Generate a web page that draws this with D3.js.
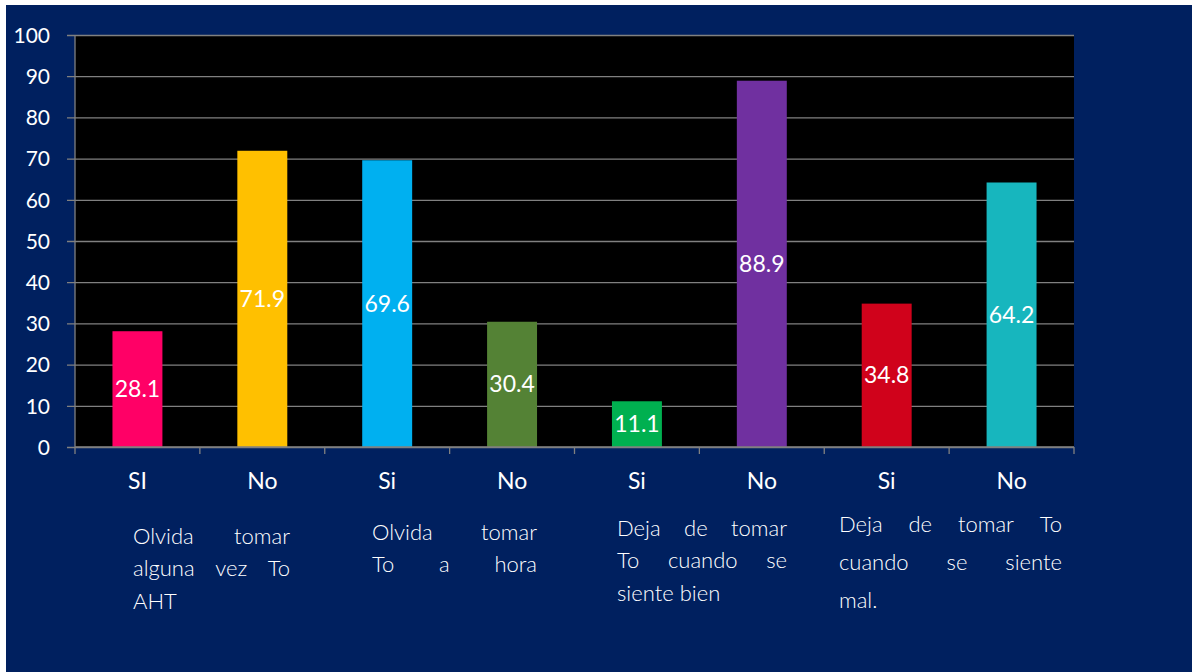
<!DOCTYPE html>
<html><head><meta charset="utf-8">
<script src="https://cdn.jsdelivr.net/npm/d3@7"></script>
<style>
html,body{margin:0;padding:0;background:#fff;}
svg{display:block;}
</style></head>
<body>
<script>
const categories = ["SI","No","Si","No","Si","No","Si","No"];
const values = [28.1, 71.9, 69.6, 30.4, 11.1, 88.9, 34.8, 64.2];
const colors = ["#FF0066","#FFC000","#00B0F0","#548235","#00B050","#7030A0","#D0021B","#17B6BE"];
const yTicks = [0,10,20,30,40,50,60,70,80,90,100];
const groupLines = [
  ["Olvida tomar","alguna vez To","AHT"],
  ["Olvida tomar","To a hora"],
  ["Deja de tomar","To cuando se","siente bien"],
  ["Deja de tomar To","cuando se siente","mal."]
];
const groupJustifyLast = [false, true, false, false];

(function(){
const W = 1192, H = 672;
const svg = d3.select("body").append("svg").attr("width", W).attr("height", H);
svg.append("rect").attr("x",6).attr("y",5).attr("width",W-6).attr("height",H-5).attr("fill","#00205F");

const pL = 75, pR = 1074, pT = 35, pB = 447;
const x = d3.scaleBand().domain(d3.range(categories.length)).range([pL,pR]).paddingInner(0.6).paddingOuter(0.3);
const xb = d3.scaleBand().domain(d3.range(categories.length)).range([pL,pR]);
const y = d3.scaleLinear().domain([0,100]).range([pB,pT]);

svg.append("rect").attr("x",pL).attr("y",pT).attr("width",pR-pL).attr("height",pB-pT).attr("fill","#000");

const font = "Lato, 'Open Sans', sans-serif";
const yAxis = d3.axisLeft(y).tickValues(yTicks).tickSize(-(pR-pL)).tickPadding(0).tickFormat(d3.format("d"));
const gy = svg.append("g").attr("transform",`translate(${pL},0)`).call(yAxis);
gy.select(".domain").remove();
gy.selectAll(".tick line").attr("stroke","#808080").attr("stroke-width",1.3).attr("x1",-8);
gy.selectAll(".tick text").attr("fill","#fff").attr("font-family",font).attr("font-size",21).attr("x",-25).attr("dy","0.35em");
svg.append("line").attr("x1",pL).attr("x2",pL).attr("y1",pT).attr("y2",pB).attr("stroke","#808080").attr("stroke-width",1.3);

svg.append("g").selectAll("rect").data(values).join("rect")
  .attr("x",(d,i)=>x(i)).attr("width",x.bandwidth())
  .attr("y",d=>y(d)).attr("height",d=>y(0)-y(d)).attr("fill",(d,i)=>colors[i]);

svg.append("line").attr("x1",pL).attr("x2",pR).attr("y1",pB).attr("y2",pB).attr("stroke","#808080").attr("stroke-width",1.3);
const bounds = d3.range(categories.length+1).map(i=> i<categories.length ? xb(i) : pR);
svg.append("g").selectAll("line").data(bounds).join("line")
  .attr("x1",d=>d).attr("x2",d=>d).attr("y1",pB).attr("y2",pB+7).attr("stroke","#808080").attr("stroke-width",1.3);
svg.append("g").selectAll("text").data(categories).join("text")
  .attr("x",(d,i)=>x(i)+x.bandwidth()/2).attr("y",481).attr("dy","0.35em")
  .attr("text-anchor","middle").attr("fill","#fff").attr("font-family",font).attr("font-size",23).text(d=>d);

svg.append("g").selectAll("text").data(values).join("text")
  .attr("x",(d,i)=>x(i)+x.bandwidth()/2).attr("y",d=>(y(d)+y(0))/2).attr("dy","0.35em")
  .attr("text-anchor","middle").attr("fill","#fff").attr("font-family",font).attr("font-size",23).text(d=>d.toFixed(1));

const blocks = [
  {x0:133, x1:290, y0:536, lh:32.5},
  {x0:372, x1:537, y0:532, lh:32.5},
  {x0:617, x1:787, y0:528, lh:32.5},
  {x0:839, x1:1062, y0:524, lh:38}
];
blocks.forEach((b,gi)=>{
  const lines = groupLines[gi];
  lines.forEach((line,li)=>{
    const words = line.split(" ");
    const ly = b.y0 + li*b.lh;
    const justify = (li < lines.length-1) || groupJustifyLast[gi];
    const g = svg.append("g");
    const ts = words.map(w=> g.append("text").attr("y",ly).attr("dy","0.35em").attr("fill","#fff")
      .attr("font-family",font).attr("font-weight",300).attr("font-size",22).text(w));
    const widths = ts.map(t=>t.node().getComputedTextLength());
    const total = d3.sum(widths);
    let gap;
    if (justify && words.length>1) gap = (b.x1-b.x0-total)/(words.length-1);
    else gap = 6;
    let cx = b.x0;
    ts.forEach((t,k)=>{ t.attr("x",cx); cx += widths[k]+gap; });
  });
});
})();
</script>
</body></html>
